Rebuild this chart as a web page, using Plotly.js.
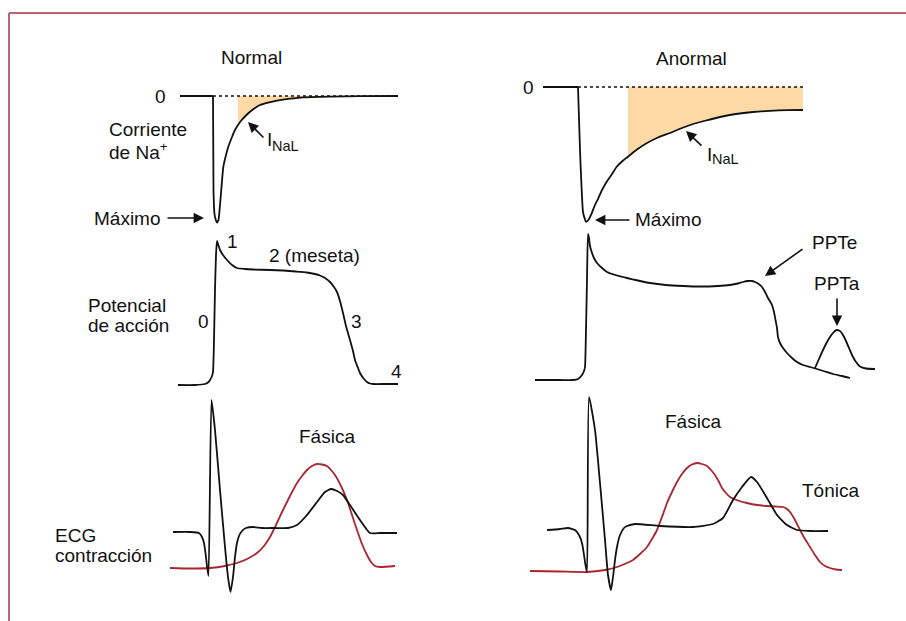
<!DOCTYPE html>
<html><head><meta charset="utf-8">
<script src="https://cdn.plot.ly/plotly-3.0.1.min.js"></script>
<style>html,body{margin:0;padding:0;background:#fff}#c{width:906px;height:621px}</style>
</head><body><div id="c"></div>
<script>
// Schematic curves (horizontal = time, vertical = amplitude in drawing units, downward positive)
const naNormalBaseX = [180, 213];
const naNormalBaseY = [96, 96];
const naNormalX = [213, 213.5, 214.5, 216, 217, 218.5, 219.3, 220.7, 223.3, 226, 228.3, 232, 235, 238, 241.7, 246, 250, 255, 260, 268, 277, 290, 303, 330, 360, 398];
const naNormalY = [96, 190, 214, 220.5, 222.5, 220, 213, 197, 167, 155, 146.7, 137, 130, 125, 120, 115.5, 111.7, 108, 105, 102.7, 100.7, 98.7, 97.3, 96.6, 96.2, 96];
const naNormalZero = 96;
const naNormalFillFrom = 238;

const naAbnBaseX = [543, 578];
const naAbnBaseY = [87, 87];
const naAbnX = [578, 580, 583, 585, 586, 588, 591.7, 595, 598.3, 602, 606.7, 612, 616.7, 622, 628, 637, 647, 658, 670, 682, 693, 706, 720, 736, 753, 770, 787, 803];
const naAbnY = [87, 150, 212, 219.5, 221.7, 220.5, 213.3, 205, 198.3, 190, 181.7, 174, 166.7, 161.5, 156.7, 149.5, 143, 137.5, 133, 128, 124, 120.5, 117, 114, 112, 110.8, 110.2, 110];
const naAbnZero = 87;
const naAbnFillFrom = 628;

const apNormalX = [178, 195, 205, 208, 210, 212, 213, 214, 215, 216, 217, 218, 220, 223, 227, 232, 237, 245, 253, 270, 283, 296, 307, 315, 320, 325, 330, 334, 337, 340, 343, 346, 350, 353, 355, 358, 360, 364, 367, 370, 373, 385, 398];
const apNormalY = [385, 385, 384, 382.5, 380, 376, 372, 340, 290, 255, 241, 244, 250, 255, 260, 265, 268, 269, 269.5, 270, 270.5, 271.5, 272.5, 274, 275.5, 278, 282, 287, 292, 301, 313, 326, 340, 351, 360, 368, 373, 379, 382, 383.5, 384, 384, 384];

const apAbnX = [535, 560, 573, 578, 582, 584, 585, 586, 587, 588, 589, 590, 592, 594, 597, 602, 607, 617, 627, 638, 650, 666, 683, 700, 718, 730, 738, 743, 748, 752, 755, 758, 762, 765, 768, 772, 774, 775.5, 777, 778, 780, 783, 787, 792, 797, 803, 810, 817, 825, 833, 842, 850];
const apAbnY = [380, 380, 380, 379, 375, 371, 367, 330, 280, 234, 238, 246, 253, 258, 263, 268, 272, 275.5, 278, 280.5, 283, 285, 286, 286.5, 286, 285, 283.5, 282, 281, 281, 282, 283.5, 287, 292, 298, 305, 312, 320, 328, 337, 343, 348, 353, 358, 362, 365, 367, 369, 371.5, 374, 376, 378];

const eadX = [815, 819, 823, 827, 830, 833, 835, 837, 839, 841, 843, 846, 849, 852, 856, 860, 866, 875];
const eadY = [368, 359, 350, 342, 337, 333, 331, 330, 330.5, 332, 335, 341, 348, 355, 362, 366.5, 368.5, 369];

const ecgNormalX = [173, 190, 199, 202, 204, 205.5, 207, 208.5, 211.5, 215, 220, 225, 228, 230.5, 233, 235, 237, 239, 242, 246, 253, 262, 275, 288, 297, 307, 317, 325, 331, 337, 343, 350, 360, 370, 380, 397];
const ecgNormalY = [532, 532, 533, 537, 543, 553, 566, 576, 400, 430, 490, 547, 577, 592, 577, 557, 543, 536, 531, 528, 527, 528, 528, 528, 525, 515, 502, 492, 489, 491, 495, 505, 520, 533, 533, 533];
const contrNormalX = [170, 190, 210, 225, 237, 247, 257, 264, 270, 276, 283, 290, 297, 302, 307, 312, 317, 322, 327, 331, 335, 341, 347, 352, 357, 362, 367, 371, 375, 380, 395];
const contrNormalY = [568, 568.5, 568, 566, 563, 559, 553, 546, 537, 525, 510, 496, 483, 476, 470, 466, 464, 464.5, 466, 470, 475, 486, 500, 515, 530, 544, 555, 562, 566, 567, 566];

const ecgAbnX = [547, 560, 568, 575, 579, 582, 584, 585.5, 587, 589, 595, 600, 605, 608, 611, 613, 615, 617, 620, 624, 627, 635, 660, 693, 713, 723, 733, 742, 751, 757, 767, 777, 787, 797, 810, 828];
const ecgAbnY = [530, 529, 528, 530, 535, 543, 555, 565, 572, 397, 430, 483, 540, 575, 590, 577, 560, 547, 535, 528, 526, 524, 526, 527, 524, 518, 500, 487, 477, 482, 498, 515, 525, 530, 531, 531];
const contrAbnX = [530, 560, 587, 605, 617, 627, 633, 640, 647, 652, 657, 662, 667, 672, 677, 682, 687, 692, 697, 702, 707, 711, 715, 719, 722, 726, 730, 738, 747, 757, 767, 775, 783, 787, 790, 795, 800, 805, 810, 815, 820, 825, 830, 836, 842];
const contrAbnY = [571, 571.5, 572, 570, 567, 563, 560, 554, 547, 539, 530, 517, 503, 492, 482, 474, 468, 464.5, 463, 464, 466, 470, 475, 482, 488, 493, 497, 500.5, 503, 505, 506, 506.5, 507, 509, 512, 520, 530, 539, 547, 555, 562, 566, 568, 569.5, 570];

const BLACK = '#111111';
const RED = '#a8262f';
const FILL = 'rgba(253,217,166,1)';
const BORDER = '#b9656f';
const FONT = 'Liberation Sans, Arial, sans-serif';

function fillPoly(xs, ys, from, zero) {
  const px = [], py = [];
  for (let i = 0; i < xs.length; i++) if (xs[i] >= from) { px.push(xs[i]); py.push(ys[i]); }
  const last = px[px.length - 1];
  return {x: [from].concat(px, [last, from]), y: [zero].concat(py, [zero, zero])};
}
const fN = fillPoly(naNormalX, naNormalY, naNormalFillFrom, naNormalZero);
const fA = fillPoly(naAbnX, naAbnY, naAbnFillFrom, naAbnZero);

function line(x, y, color, w, dash) {
  return {type: 'scatter', mode: 'lines', x: x, y: y, hoverinfo: 'skip',
    line: {color: color, width: w, shape: 'spline', smoothing: 0.5, dash: dash || 'solid'}};
}
function straight(x, y, color, w, dash) {
  return {type: 'scatter', mode: 'lines', x: x, y: y, hoverinfo: 'skip',
    line: {color: color, width: w, dash: dash || 'solid'}};
}

const traces = [
  {type: 'scatter', mode: 'none', x: fN.x, y: fN.y, fill: 'toself', fillcolor: FILL, hoverinfo: 'skip', line: {width: 0}},
  {type: 'scatter', mode: 'none', x: fA.x, y: fA.y, fill: 'toself', fillcolor: FILL, hoverinfo: 'skip', line: {width: 0}},
  straight([naNormalBaseX[1], naNormalX[naNormalX.length - 1]], [naNormalZero, naNormalZero], BLACK, 1.3, 'dot'),
  straight([naAbnBaseX[1], naAbnX[naAbnX.length - 1]], [naAbnZero, naAbnZero], BLACK, 1.3, 'dot'),
  straight(naNormalBaseX, naNormalBaseY, BLACK, 1.8),
  straight(naAbnBaseX, naAbnBaseY, BLACK, 1.8),
  line(naNormalX, naNormalY, BLACK, 1.8),
  line(naAbnX, naAbnY, BLACK, 1.8),
  line(apNormalX, apNormalY, BLACK, 1.8),
  line(apAbnX, apAbnY, BLACK, 1.8),
  line(eadX, eadY, BLACK, 1.8),
  line(contrNormalX, contrNormalY, RED, 1.8),
  line(contrAbnX, contrAbnY, RED, 1.8),
  line(ecgNormalX, ecgNormalY, BLACK, 1.8),
  line(ecgAbnX, ecgAbnY, BLACK, 1.8)
];

function txt(x, y, t, xa, size) {
  return {x: x, y: y, text: t, showarrow: false, xanchor: xa || 'left', yanchor: 'middle',
    font: {family: FONT, size: size || 19, color: BLACK}};
}
function arrow(tx, ty, fx, fy) {
  return {x: tx, y: ty, ax: fx, ay: fy, axref: 'x', ayref: 'y', xref: 'x', yref: 'y', text: '',
    showarrow: true, arrowhead: 2, arrowsize: 1.3, arrowwidth: 1.6, arrowcolor: BLACK, standoff: 0};
}

const annotations = [
  txt(251, 57, 'Normal', 'center'),
  txt(691, 58, 'Anormal', 'center'),
  txt(168, 96, '0', 'right'),
  txt(536, 87, '0', 'right'),
  txt(107, 129, 'Corriente'),
  txt(107, 151, 'de Na<sup>+</sup>'),
  txt(92, 218, 'Máximo'),
  txt(633, 219, 'Máximo'),
  txt(265, 139, 'I'),
  txt(270, 145.5, 'NaL', 'left', 14.5),
  txt(705, 154, 'I'),
  txt(710, 158.5, 'NaL', 'left', 14.5),
  txt(225, 241, '1'),
  txt(267, 255, '2 (meseta)'),
  txt(86, 305, 'Potencial'),
  txt(86, 325, 'de acción'),
  txt(203, 321, '0', 'center'),
  txt(356, 321, '3', 'center'),
  txt(396, 371, '4', 'center'),
  txt(810, 242, 'PPTe'),
  txt(812, 283, 'PPTa'),
  txt(297, 436, 'Fásica'),
  txt(663, 421, 'Fásica'),
  txt(800, 490, 'Tónica'),
  txt(53, 535, 'ECG'),
  txt(53, 555, 'contracción'),
  arrow(204, 218, 166, 218),
  arrow(595, 220, 631, 220),
  arrow(248, 122, 265, 139),
  arrow(686, 131, 703, 147),
  arrow(765, 276, 804, 248),
  arrow(837, 326, 837, 297)
];

const layout = {
  width: 906, height: 621,
  margin: {l: 0, r: 0, t: 0, b: 0},
  paper_bgcolor: '#ffffff', plot_bgcolor: '#ffffff',
  showlegend: false,
  xaxis: {range: [0, 906], visible: false, fixedrange: true},
  yaxis: {range: [621, 0], visible: false, fixedrange: true},
  shapes: [
    {type: 'line', x0: 9, x1: 906, y0: 13, y1: 13, line: {color: BORDER, width: 2}},
    {type: 'line', x0: 9, x1: 9, y0: 13, y1: 621, line: {color: BORDER, width: 2}}
  ],
  annotations: annotations
};

Plotly.newPlot('c', traces, layout, {staticPlot: true, displayModeBar: false});
</script>
</body></html>
